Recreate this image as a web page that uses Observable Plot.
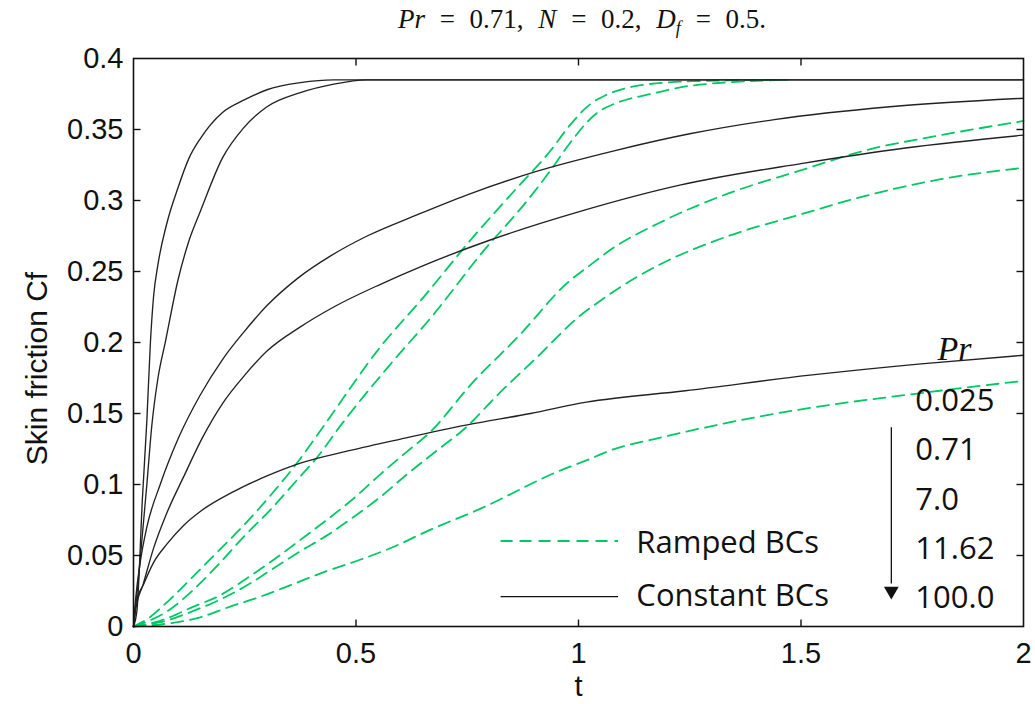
<!DOCTYPE html>
<html><head><meta charset="utf-8">
<script src="https://cdn.jsdelivr.net/npm/d3@7"></script>
<script src="https://cdn.jsdelivr.net/npm/@observablehq/plot@0.6"></script>
<style>
body{margin:0;background:#fff;}
#wrap{width:1035px;height:704px;position:relative;overflow:hidden;}
#title{height:40px;width:1035px;position:relative;font-family:"Liberation Serif",serif;font-size:27px;color:#111;}
#title span{position:absolute;left:582px;top:4px;transform:translateX(-50%);white-space:nowrap;word-spacing:8px;}
#title sub{font-size:18px;}
</style></head><body>
<div id="wrap">
<div id="title"><span><i>Pr</i> = 0.71, <i>N</i> = 0.2, <i>D<sub>f</sub></i> = 0.5.</span></div>
<div id="chart"></div>
</div>
<script>
// ---- data (t, Cf) ----
const constPr0025 = [[0,0],[0.008,0.012],[0.02,0.09],[0.03,0.145],[0.038,0.2],[0.045,0.232],[0.055,0.255],[0.075,0.284],[0.1,0.309],[0.125,0.33],[0.151,0.344],[0.2,0.362],[0.25,0.371],[0.3,0.378],[0.375,0.383],[0.45,0.385],[2,0.385]];
const constPr071 = [[0,0],[0.01,0.03],[0.02,0.065],[0.03,0.1],[0.041,0.141],[0.055,0.175],[0.072,0.201],[0.1,0.244],[0.125,0.272],[0.151,0.293],[0.2,0.33],[0.247,0.351],[0.3,0.366],[0.375,0.376],[0.45,0.382],[0.525,0.385],[2,0.385]];
const constPr7 = [[0,0],[0.005,0.02],[0.015,0.045],[0.03,0.07],[0.06,0.1],[0.1,0.132],[0.15,0.163],[0.2,0.188],[0.247,0.207],[0.3,0.226],[0.368,0.245],[0.443,0.261],[0.525,0.275],[0.638,0.29],[0.75,0.304],[0.9,0.32],[1.08,0.335],[1.25,0.347],[1.44,0.357],[1.7,0.366],[2,0.372]];
const constPr1162 = [[0,0],[0.005,0.012],[0.022,0.03],[0.045,0.055],[0.075,0.08],[0.112,0.105],[0.155,0.133],[0.2,0.157],[0.25,0.177],[0.3,0.194],[0.375,0.211],[0.45,0.225],[0.555,0.241],[0.65,0.254],[0.8,0.272],[1.0,0.292],[1.23,0.311],[1.5,0.326],[1.735,0.337],[2,0.346]];
const constPr100 = [[0,0],[0.005,0.016],[0.023,0.03],[0.045,0.045],[0.075,0.058],[0.112,0.071],[0.15,0.081],[0.225,0.095],[0.3,0.106],[0.375,0.115],[0.487,0.124],[0.6,0.132],[0.75,0.142],[0.892,0.15],[1.018,0.158],[1.24,0.166],[1.52,0.177],[1.77,0.185],[2,0.191]];

const rampPr0025 = [[0,0],[0.03,0.005],[0.075,0.017],[0.127,0.033],[0.187,0.052],[0.247,0.071],[0.307,0.092],[0.367,0.115],[0.427,0.141],[0.555,0.197],[0.652,0.232],[0.757,0.272],[0.862,0.309],[0.937,0.335],[0.978,0.352],[1.027,0.368],[1.06,0.374],[1.137,0.381],[1.256,0.384],[1.47,0.385]];
const rampPr071 = [[0,0],[0.035,0.004],[0.082,0.012],[0.135,0.026],[0.195,0.045],[0.247,0.063],[0.307,0.082],[0.367,0.103],[0.42,0.122],[0.457,0.138],[0.57,0.182],[0.675,0.22],[0.78,0.262],[0.885,0.3],[0.939,0.322],[0.975,0.338],[1.043,0.362],[1.08,0.368],[1.162,0.375],[1.256,0.381],[1.47,0.385]];
const rampPr7 = [[0,0],[0.06,0.004],[0.135,0.014],[0.195,0.022],[0.255,0.034],[0.315,0.047],[0.375,0.061],[0.434,0.075],[0.494,0.09],[0.554,0.107],[0.614,0.123],[0.667,0.137],[0.757,0.17],[0.87,0.206],[0.975,0.242],[1.02,0.253],[1.08,0.267],[1.18,0.284],[1.337,0.305],[1.497,0.321],[1.654,0.336],[1.814,0.346],[2,0.356]];
const rampPr1162 = [[0,0],[0.06,0.003],[0.135,0.011],[0.195,0.019],[0.255,0.029],[0.315,0.041],[0.375,0.053],[0.434,0.064],[0.494,0.077],[0.554,0.091],[0.614,0.107],[0.674,0.122],[0.75,0.141],[0.818,0.163],[0.908,0.19],[1.004,0.219],[1.043,0.228],[1.094,0.239],[1.177,0.254],[1.337,0.275],[1.497,0.29],[1.654,0.304],[1.814,0.315],[2,0.323]];
const rampPr100 = [[0,0],[0.075,0.002],[0.15,0.0065],[0.217,0.014],[0.285,0.021],[0.36,0.03],[0.434,0.039],[0.509,0.047],[0.584,0.056],[0.659,0.067],[0.78,0.083],[0.96,0.11],[1.018,0.117],[1.072,0.124],[1.184,0.133],[1.297,0.141],[1.409,0.148],[1.521,0.154],[1.735,0.163],[2,0.173]];

const prLabels = ["0.025","0.71","7.0","11.62","100.0"];
const xTicks = [0,0.5,1,1.5,2];
const yTicks = [0,0.05,0.1,0.15,0.2,0.25,0.3,0.35,0.4];
const legendItems = ["Ramped BCs","Constant BCs"];

// ---- build table ----
const constSeries = [constPr0025,constPr071,constPr7,constPr1162,constPr100];
const rampSeries = [rampPr0025,rampPr071,rampPr7,rampPr1162,rampPr100];
const constRows = constSeries.flatMap((s,i)=>s.map(([t,v])=>({t,v,k:prLabels[i]})));
const rampRows = rampSeries.flatMap((s,i)=>s.map(([t,v])=>({t,v,k:prLabels[i]})));

const GREEN = "#00c864";
const INK = "#111";
const LEG_X1 = 0.826, LEG_X2 = 1.09, LEG_TX = 1.13;
// inward tick length expressed in data units of each scale
const TX = 7/445, TY = 7/1420;
const innerX = xTicks.slice(1,-1), innerY = yTicks.slice(1,-1);
const tickRowsX = innerX.flatMap(x=>[{x,y1:0,y2:TY},{x,y1:0.4,y2:0.4-TY}]);
const tickRowsY = innerY.flatMap(y=>[{y,x1:0,x2:TX},{y,x1:2,x2:2-TX}]);

const chart = Plot.plot({
  width:1035, height:664,
  marginLeft:133, marginRight:12, marginTop:18, marginBottom:78,
  x:{domain:[0,2]}, y:{domain:[0,0.4]},
  style:{fontFamily:"'Liberation Sans', Arial, sans-serif", fontSize:"29px", color:INK, background:"#fff"},
  marks:[
    Plot.line(rampRows,{x:"t",y:"v",z:"k",stroke:GREEN,strokeWidth:1.8,strokeDasharray:"12,7",curve:"monotone-x"}),
    Plot.line(constRows,{x:"t",y:"v",z:"k",stroke:"#222",strokeWidth:1.35,curve:"monotone-x"}),
    // tick labels
    Plot.axisX({ticks:xTicks,tickFormat:d=>String(d),tickSize:0,tickPadding:16,label:null,fontSize:29}),
    Plot.axisY({ticks:yTicks,tickFormat:d=>String(+d.toFixed(2)),tickSize:0,tickPadding:10,label:null,fontSize:29}),
    // inward ticks on all four sides
    Plot.link(tickRowsX,{x1:"x",x2:"x",y1:"y1",y2:"y2",stroke:INK,strokeWidth:1.4}),
    Plot.link(tickRowsY,{y1:"y",y2:"y",x1:"x1",x2:"x2",stroke:INK,strokeWidth:1.4}),
    Plot.frame({stroke:INK,strokeWidth:1.6}),
    // axis titles
    Plot.text(["t"],{frameAnchor:"bottom",dy:69,fontSize:29}),
    Plot.text(["Skin friction Cf"],{frameAnchor:"left",dx:-96,dy:26,rotate:-90,textAnchor:"middle",fontSize:30}),
    // legend
    Plot.ruleY([0.0602],{x1:LEG_X1,x2:LEG_X2,stroke:GREEN,strokeWidth:1.8,strokeDasharray:"12,7"}),
    Plot.ruleY([0.0211],{x1:LEG_X1,x2:LEG_X2,stroke:INK,strokeWidth:1.3}),
    Plot.text([legendItems[0]],{x:()=>LEG_TX,y:()=>0.0585,textAnchor:"start",fontFamily:"'Open Sans', sans-serif",fontSize:31}),
    Plot.text([legendItems[1]],{x:()=>LEG_TX,y:()=>0.0215,textAnchor:"start",fontFamily:"'Open Sans', sans-serif",fontSize:31}),
    // Pr annotation
    Plot.text(["Pr"],{x:()=>1.845,y:()=>0.195,fontFamily:"'Liberation Serif', serif",fontStyle:"italic",fontSize:34}),
    Plot.text(prLabels,{x:()=>1.757,y:(d,i)=>0.1585-i*0.0346,textAnchor:"start",fontFamily:"'Open Sans', sans-serif",fontSize:31}),
    Plot.ruleX([1.703],{y1:0.03,y2:0.14,stroke:INK,strokeWidth:1.3}),
    Plot.dot([1.703],{x:d=>d,y:()=>0.025,symbol:"triangle",r:5.5,rotate:180,fill:INK,stroke:null})
  ]
});
document.getElementById("chart").appendChild(chart);
</script>
</body></html>
